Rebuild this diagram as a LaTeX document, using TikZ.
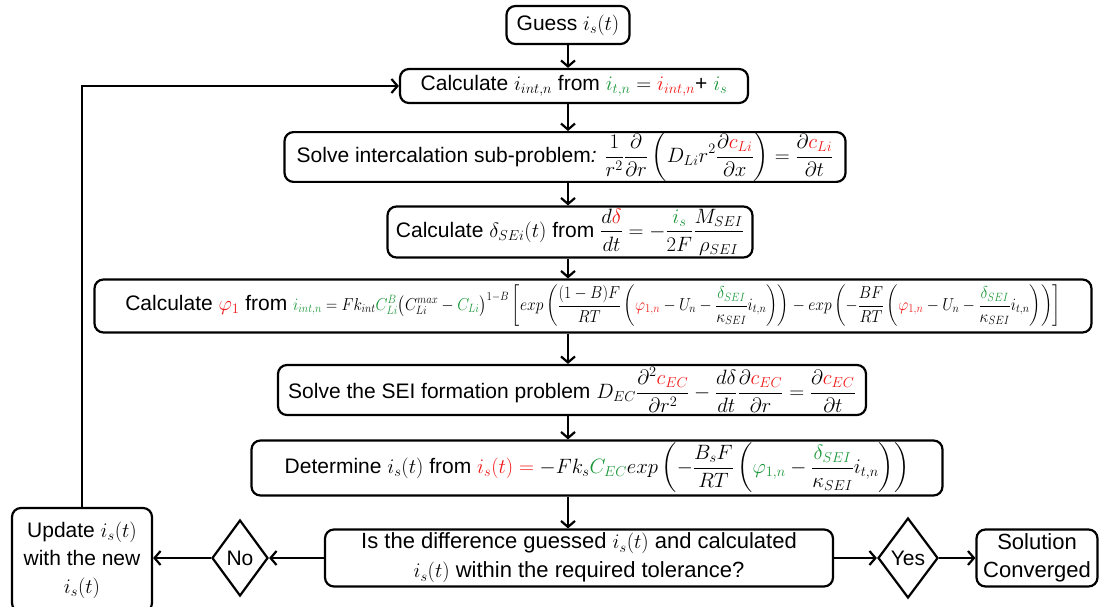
\documentclass[tikz,border=0pt]{standalone}
\usepackage{fontspec}
\setmainfont{Liberation Sans}
\usepackage{amsmath}
\usetikzlibrary{arrows.meta,shapes.geometric}
\definecolor{rd}{RGB}{240,20,20}
\definecolor{gr}{RGB}{25,150,55}
\newcommand{\R}[1]{\textcolor{rd}{#1}}
\newcommand{\G}[1]{\textcolor{gr}{#1}}
\newcommand{\M}[1]{$\displaystyle #1$}
\begin{document}
\begin{tikzpicture}[x=1pt,y=-1pt,
  every node/.style={font=\fontsize{21}{25}\selectfont},
  box/.style={draw, line width=2.2pt, rounded corners=9pt, inner sep=0pt, align=center},
  dia/.style={draw, line width=2.2pt, diamond, inner sep=0pt, aspect=0.75},
  arr/.style={line width=2.2pt, -{Straight Barb[length=6pt,width=14pt]}}]
\useasboundingbox (0,0) rectangle (1102,607);

\node[box, minimum width=123pt, minimum height=38pt] (guess) at (568,25) {Guess $i_s(t)$};
\node[box, minimum width=348pt, minimum height=34pt] (calc1) at (574,86)
  {Calculate $i_{int,n}$ from $\G{i_{t,n}} = \R{i_{int,n}}$+ $\G{i_s}$};
\node[box, minimum width=561pt, minimum height=45pt] (solve) at (565,157)
  {Solve intercalation sub-problem\textit{:} \M{\frac{1}{r^2}\frac{\partial}{\partial r}\left(D_{Li}r^2\frac{\partial \R{c_{Li}}}{\partial x}\right) = \frac{\partial \R{c_{Li}}}{\partial t}}};
\node[box, minimum width=365pt, minimum height=51pt] (delta) at (570,232)
  {Calculate $\delta_{SEi}(t)$ from \M{\frac{d\R{\delta}}{dt} = -\frac{\G{i_s}}{2F}\frac{M_{SEI}}{\rho_{SEI}}}};
\node[box, minimum width=997pt, minimum height=53pt] (phi) at (593,306)
  {Calculate $\R{\varphi_1}$ from \scalebox{0.9}[1]{\fontsize{18}{21}\selectfont$\displaystyle\G{i_{int,n}} = Fk_{int}\G{C_{Li}^B}\big(C_{Li}^{max}-\G{C_{Li}}\big)^{1-B}\left[exp\left(\frac{(1-B)F}{RT}\left(\R{\varphi_{1,n}}-U_n-\frac{\G{\delta_{SEI}}}{\kappa_{SEI}}i_{t,n}\right)\right)-exp\left(-\frac{BF}{RT}\left(\R{\varphi_{1,n}}-U_n-\frac{\G{\delta_{SEI}}}{\kappa_{SEI}}i_{t,n}\right)\right)\right]$}};
\node[box, minimum width=588pt, minimum height=50pt] (sei) at (572,390)
  {Solve the SEI formation problem \M{D_{EC}\frac{\partial^2\R{c_{EC}}}{\partial r^2}-\frac{d\delta}{dt}\frac{\partial\R{c_{EC}}}{\partial r}=\frac{\partial\R{c_{EC}}}{\partial t}}};
\node[box, minimum width=691pt, minimum height=55pt] (det) at (597,468)
  {Determine $i_s(t)$ from \M{\R{i_s(t)}\mathrel{\R{=}}-Fk_s\G{C_{EC}}exp\left(-\frac{B_sF}{RT}\left(\G{\varphi_{1,n}}-\frac{\G{\delta_{SEI}}}{\kappa_{SEI}}i_{t,n}\right)\right)}};
\node[box, minimum width=508pt, minimum height=57pt, font=\fontsize{22}{25}\selectfont] (dec) at (579,558)
  {Is the difference guessed $i_s(t)$ and calculated\\[4pt] $i_s(t)$ within the required tolerance?};
\node[dia, minimum width=60pt, minimum height=80pt] (yes) at (908,558) {Yes};
\node[box, minimum width=121pt, minimum height=57pt, font=\fontsize{22}{25}\selectfont] (sol) at (1037,558) {Solution\\[3pt]Converged};
\node[dia, minimum width=56pt, minimum height=76pt] (no) at (240,558) {No};
\node[box, minimum width=140pt, minimum height=104pt] (upd) at (82,560) {Update $i_s(t)$\\[3pt] with the new\\[3pt] $i_s(t)$};

\draw[arr] (guess.south) -- (guess.south |- calc1.north);
\draw[arr] (calc1.south -| guess) -- (solve.north -| guess);
\draw[arr] (solve.south -| guess) -- (delta.north -| guess);
\draw[arr] (delta.south -| guess) -- (phi.north -| guess);
\draw[arr] (phi.south -| guess) -- (sei.north -| guess);
\draw[arr] (sei.south -| guess) -- (det.north -| guess);
\draw[arr] (det.south -| guess) -- (dec.north -| guess);
\draw[arr] (dec.east) -- (yes.west);
\draw[arr] (yes.east) -- (sol.west);
\draw[arr] (dec.west) -- (no.east);
\draw[arr] (no.west) -- (no.west -| upd.east);
\draw[arr] (upd.north) |- (calc1.west);
\end{tikzpicture}
\end{document}
